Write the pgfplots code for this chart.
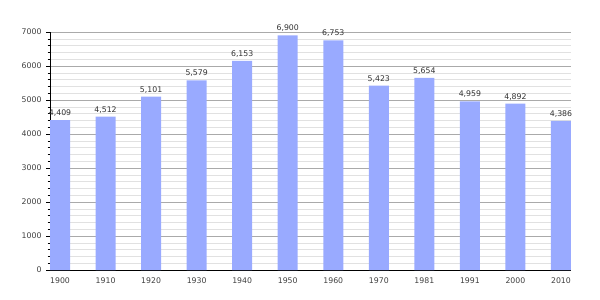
\documentclass[border=0pt]{standalone}
\usepackage{pgfplots}
\pgfplotsset{compat=1.18}
\usepackage{fontspec}
\setmainfont{DejaVu Sans}
\definecolor{barblue}{RGB}{153,170,255}
\definecolor{majgrid}{RGB}{170,170,170}
\definecolor{mingrid}{RGB}{225,225,225}
\begin{document}
\begin{tikzpicture}
\useasboundingbox (0,0) rectangle (600bp,300bp);
\begin{axis}[
  at={(50bp,30bp)}, anchor=south west,
  scale only axis, width=521bp, height=238bp,
  xmin=-0.22, xmax=11.22, ymin=0, ymax=7000,
  ytick={0,1000,...,7000}, minor y tick num=4,
  xtick=data,
  xticklabels={1900,1910,1920,1930,1940,1950,1960,1970,1981,1991,2000,2010},
  axis x line=bottom, axis y line=left,
  axis line style={-, black, line width=0.8pt},
  x axis line style={line width=1pt},
  ymajorgrids, yminorgrids,
  major grid style={majgrid, line width=0.6pt},
  minor grid style={mingrid, line width=0.6pt},
  tick pos=left, tick align=outside,
  major tick length=4bp, minor tick length=2.5bp,
  y tick style={black, line width=0.6pt},
  xtick style={draw=none},
  ticklabel style={font=\fontsize{7.8}{9}\selectfont, text=black!75},
  /pgf/number format/assume math mode=true,
  yticklabel style={/pgf/number format/1000 sep={}, xshift=-1bp},
  xticklabel style={yshift=-0.5bp},
  ybar, bar width=20bp,
  nodes near coords,
  every node near coord/.append style={font=\fontsize{7.8}{9}\selectfont, text=black!80, /pgf/number format/1000 sep={,}},
  clip=false,
]
\addplot[fill=barblue, draw=none] coordinates {
(0,4409) (1,4512) (2,5101) (3,5579) (4,6153) (5,6900) (6,6753) (7,5423) (8,5654) (9,4959) (10,4892) (11,4386)
};
\end{axis}
\end{tikzpicture}
\end{document}
